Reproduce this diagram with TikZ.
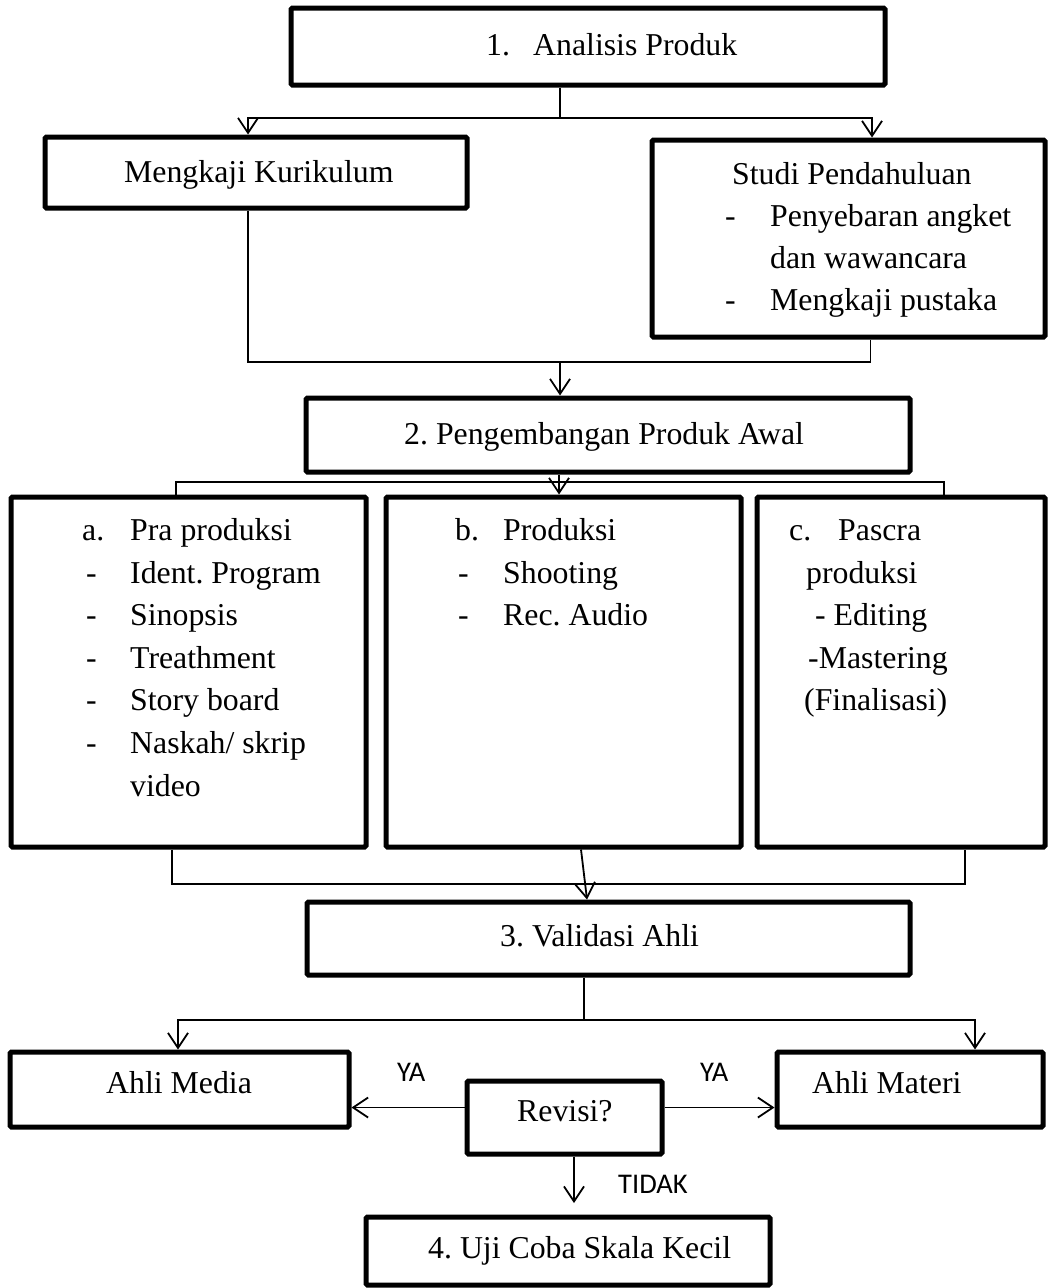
\documentclass[tikz,border=0pt]{standalone}
\usepackage{fontspec}
\setmainfont{Liberation Serif}
\newfontfamily\labsans{Carlito}
\usetikzlibrary{arrows.meta,calc}
\frenchspacing
\begin{document}
\begin{tikzpicture}[x=1pt,y=-1pt,
  box/.style={draw,line width=5pt,rounded corners=1.5pt,inner sep=0pt},
  conn/.style={line width=1.8pt},
  arr/.style={-{Straight Barb[length=15pt,width=20pt,line width=1.8pt]}},
  txt/.style={inner sep=0pt,anchor=base west,font=\fontsize{31.8}{38}\selectfont},
  lab/.style={inner sep=0pt,anchor=base west,font=\labsans\fontsize{28.5}{32}\selectfont}]
\useasboundingbox (0,0) rectangle (1048,1288);
% boxes
\node[box,minimum width=594pt,minimum height=77pt] (b1) at (588,46.5) {};
\node[box,minimum width=422pt,minimum height=71pt] (mk) at (256,172.5) {};
\node[box,minimum width=393pt,minimum height=197pt] (sp) at (848.5,238.5) {};
\node[box,minimum width=604pt,minimum height=74pt] (pg) at (608,435) {};
\node[box,minimum width=355pt,minimum height=350pt] (pa) at (188.5,672) {};
\node[box,minimum width=355pt,minimum height=350pt] (pb) at (563.5,672) {};
\node[box,minimum width=288pt,minimum height=350pt] (pc) at (901,672) {};
\node[box,minimum width=603pt,minimum height=73pt] (va) at (608.5,938.5) {};
\node[box,minimum width=339pt,minimum height=75pt] (am) at (179.5,1089.5) {};
\node[box,minimum width=266pt,minimum height=75pt] (at) at (910,1089.5) {};
\node[box,minimum width=195pt,minimum height=73pt] (rv) at (564.5,1117.5) {};
\node[box,minimum width=404pt,minimum height=68pt] (uk) at (568,1251) {};
% texts
\node[txt] (t1n) at (486,55) {1.};
\node[txt] (t1) at (533,55) {Analisis Produk};
\node[txt] (tmk) at (124,182) {Mengkaji Kurikulum};
\node[txt] (tsp) at (732,184) {Studi Pendahuluan};
\node[txt] (tspd1) at (725,226) {-};
\node[txt] (tsp1) at (770,226) {Penyebaran angket};
\node[txt] (tsp2) at (770,268) {dan wawancara};
\node[txt] (tspd2) at (725,310) {-};
\node[txt] (tsp3) at (770,310) {Mengkaji pustaka};
\node[txt] (tpg) at (404,444) {2. Pengembangan Produk Awal};
% box a
\node[txt] (tan) at (82,540) {a.};
\node[txt] (ta0) at (130,540) {Pra produksi};
\node[txt] (tad1) at (86,583) {-};
\node[txt] (ta1) at (130,583) {Ident. Program};
\node[txt] (tad2) at (86,625) {-};
\node[txt] (ta2) at (130,625) {Sinopsis};
\node[txt] (tad3) at (86,668) {-};
\node[txt] (ta3) at (130,668) {Treathment};
\node[txt] (tad4) at (86,710) {-};
\node[txt] (ta4) at (130,710) {Story board};
\node[txt] (tad5) at (86,753) {-};
\node[txt] (ta5) at (130,753) {Naskah/ skrip};
\node[txt] (ta6) at (130,796) {video};
% box b
\node[txt] (tbn) at (455,540) {b.};
\node[txt] (tb0) at (503,540) {Produksi};
\node[txt] (tbd1) at (458,583) {-};
\node[txt] (tb1) at (503,583) {Shooting};
\node[txt] (tbd2) at (458,625) {-};
\node[txt] (tb2) at (503,625) {Rec. Audio};
% box c
\node[txt] (tcn) at (789,540) {c.};
\node[txt] (tc0) at (838,540) {Pascra};
\node[txt] (tc1) at (806,583) {produksi};
\node[txt] (tc2) at (815,625) {- Editing};
\node[txt] (tc3) at (808,668) {-Mastering};
\node[txt] (tc4) at (804,710) {(Finalisasi)};
\node[txt] (tva) at (500,946) {3. Validasi Ahli};
\node[txt] (tam) at (106,1093) {Ahli Media};
\node[txt] (tat) at (812,1093) {Ahli Materi};
\node[txt] (trv) at (517,1121) {Revisi?};
\node[txt] (tuk) at (428,1258) {4. Uji Coba Skala Kecil};
\node[lab] (ya1) at (397,1081) {YA};
\node[lab] (ya2) at (700,1081) {YA};
\node[lab] (tdk) at (618,1193) {TIDAK};
% connectors
\coordinate (j1) at (560,118);
\draw[conn] (b1.south -| j1) -- (j1);
\draw[conn,arr] (j1) -| ([xshift=-8pt]mk.north);
\draw[conn,arr] (j1) -| ([xshift=23.5pt]sp.north);
\coordinate (j2) at (560,362);
\draw[conn] ([xshift=-8pt]mk.south) |- (j2);
\draw[conn] ([xshift=22pt]sp.south) |- (j2);
\draw[conn,arr] (j2) -- (pg.north -| j2);
\coordinate (j3) at (559,482);
\draw[conn,arr] (pg.south -| j3) -- (pb.north -| j3);
\coordinate (ja) at (176,482);
\coordinate (jc) at (944,482);
\draw[conn] (pa.north -| ja) -- (ja) -- (jc) -- (pc.north -| jc);
\coordinate (ka) at (172,884);
\coordinate (kc) at (965,884);
\draw[conn] (pa.south -| ka) -- (ka) -- (kc) -- (pc.south -| kc);
\draw[conn,arr] ([xshift=17.5pt]pb.south) -- ([xshift=-21.5pt]va.north);
\coordinate (j5) at (584,1020);
\draw[conn] (va.south -| j5) -- (j5);
\draw[conn,arr] (j5) -| ([xshift=-1.5pt]am.north);
\draw[conn,arr] (j5) -| ([xshift=65pt]at.north);
\draw[conn,arr] ([yshift=10pt]rv.west) -- ([yshift=10pt]rv.west -| am.east);
\draw[conn,arr] ([yshift=10pt]rv.east) -- ([yshift=10pt]rv.east -| at.west);
\coordinate (tend) at (574,1203);
\draw[conn,arr] (rv.south -| tend) -- (tend);
\end{tikzpicture}
\end{document}
